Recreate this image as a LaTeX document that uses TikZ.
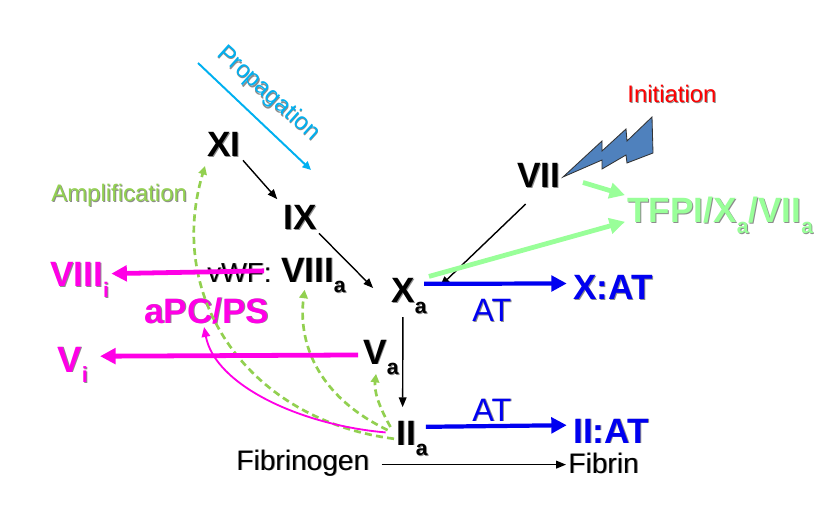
\documentclass[tikz,border=0pt]{standalone}
\usepackage{fontspec}
\setmainfont{Liberation Sans}
\usepackage{xcolor}
\usetikzlibrary{arrows.meta}
\definecolor{ampgreen}{HTML}{92D050}
\definecolor{lightgr}{HTML}{99FF99}
\definecolor{propblue}{HTML}{00B0F0}
\definecolor{boltblue}{HTML}{4F81BD}
\definecolor{pinkm}{HTML}{FF00E6}
\definecolor{atblue}{HTML}{0000F0}
\newcommand{\shd}[1]{\leavevmode\rlap{\raisebox{-0.7pt}{\kern0.7pt\textcolor{black!45}{#1}}}#1}
\newcommand{\lowr}[1]{\raisebox{-.3em}{\scalebox{.6}{#1}}}
\begin{document}
\begin{tikzpicture}[x=0.025cm,y=-0.025cm,
      fac/.style={anchor=base west,inner sep=1.5pt,font=\fontsize{25}{28}\selectfont\bfseries},
      lbl/.style={anchor=base west,inner sep=1.5pt,font=\fontsize{17}{20}\selectfont},
      plain/.style={anchor=base west,inner sep=1.5pt,font=\fontsize{20}{24}\selectfont},
      blackarr/.style={-{Triangle[length=7pt,width=5.5pt]},line width=1pt,black},
      bluearr/.style={-{Triangle[length=11pt,width=11pt]},line width=3pt,atblue},
      pinkarr/.style={-{Triangle[length=11pt,width=11pt]},line width=3.4pt,pinkm},
      greenarr/.style={-{Triangle[length=11pt,width=11pt]},line width=3.4pt,lightgr},
      ampl/.style={-{Triangle[length=6pt,width=6pt]},line width=1.9pt,ampgreen,dash pattern=on 5pt off 3pt}]
    \useasboundingbox (0,0) rectangle (817,505);
    % --- factors ---
    \node[fac] (xi) at (205,157) {\shd{XI}};
    \node[fac] (ix) at (281,230) {\shd{IX}};
    \node[fac,anchor=base east] (viiia) at (348,282) {\shd{{\fontsize{19.5}{24}\selectfont\mdseries vWF:} VIII\lowr{a}}};
    \node[fac] (xa) at (389,303) {\shd{X\lowr{a}}};
    \node[fac] (va) at (361,364) {\shd{V\lowr{a}}};
    \node[fac] (iia) at (394,445) {\shd{II\lowr{a}}};
    \node[fac] (vii) at (515,188) {\shd{VII}};
    \node[fac,pinkm] (viiii) at (48,287) {\shd{VIII\lowr{i}}};
    \node[fac,pinkm,font=\fontsize{26}{28}\selectfont\bfseries] (vi) at (55,372) {\shd{V\lowr{i}}};
    \node[fac,pinkm] (apc) at (142,323) {\shd{aPC/PS}};
    \node[fac,lightgr] (tfpi) at (625,223) {\shd{TFPI/X\lowr{a}/VII\lowr{a}}};
    \node[fac,atblue] (xat) at (571,300) {\shd{X:AT}};
    \node[fac,atblue] (iiat) at (571,443) {\shd{II:AT}};
    % --- labels ---
    \node[plain,atblue,font=\fontsize{23}{28}\selectfont] (at1) at (470,322) {\shd{AT}};
    \node[plain,atblue,font=\fontsize{23}{28}\selectfont] (at2) at (470,421) {\shd{AT}};
    \node[plain] (fbg) at (234,470) {\shd{Fibrinogen}};
    \node[plain] (fbn) at (566,473) {\shd{Fibrin}};
    \node[lbl,red] (init) at (625,103) {\shd{Initiation}};
    \node[lbl,ampgreen] (amp) at (49,202) {\shd{Amplification}};
    \node[lbl,propblue,anchor=center,rotate=-42] (prop) at (268,94) {\shd{Propagation}};
    % lightning
    \draw[fill=boltblue,draw=black!80,line width=0.6pt] (563,177) -- (602,141) -- (602,151) -- (626,129)
      -- (627,141) -- (652,117) -- (653,153) -- (627,163) -- (626,155) -- (602,169) -- (602,160) -- cycle;
    % --- black arrows ---
    \draw[blackarr,shorten >=4pt] (xi.south east) -- (ix.north west);
    \draw[blackarr,shorten >=16pt] (ix.south east) -- (xa.200);
    \draw[blackarr,shorten <=13pt,shorten >=11pt] (vii.south) -- (xa.east);
    \draw[blackarr,shorten >=8pt] ([xshift=-4.3pt]xa.south) -- ([xshift=-6.7pt]iia.north);
    \draw[blackarr,shorten <=7pt] (fbg.east) ++(0,-1pt) coordinate (fba) (fba) -- (fba -| fbn.west);
    % --- curved arrows out of IIa ---
    \draw[ampl] (iia.west) .. controls (250,420) and (165,300) .. ([yshift=-4pt]xi.south west);
    \draw[ampl,shorten <=5pt] ([yshift=4pt]iia.west) .. controls (315,395) and (298,340) .. ([xshift=20pt,yshift=4.5pt]viiia.south);
    \draw[ampl,shorten <=5pt] ([yshift=4pt]iia.west) .. controls (378,405) and (374,390) .. ([xshift=-3.5pt,yshift=3pt]va.south);
    \draw[-{Triangle[length=7pt,width=6pt]},line width=1.3pt,pinkm,shorten <=6pt] ([yshift=4pt]iia.west)
      .. controls (300,425) and (215,385) .. ([xshift=-2pt]apc.south);
    % --- thick arrows ---
    \draw[pinkarr] ([xshift=42pt,yshift=3.5pt]viiia.west) -- ([yshift=5pt]viiii.east);
    \draw[pinkarr,shorten <=2pt,shorten >=7pt] ([yshift=2pt]va.west) -- ([yshift=6.5pt]vi.east);
    \draw[bluearr] ([xshift=-3.5pt,yshift=9.2pt]xa.east) -- ([xshift=-3pt,yshift=3.5pt]xat.west);
    \draw[bluearr] ([xshift=-3pt,yshift=8.5pt]iia.east) -- ([xshift=-3pt,yshift=4.4pt]iiat.west);
    \draw[greenarr,shorten <=15pt] (vii.east) -- (tfpi.north west);
    \draw[greenarr] (xa.north east) -- ([yshift=-4pt]tfpi.west);
    % propagation
    \coordinate (propa) at (198,63);
    \coordinate (propb) at (311,170);
    \draw[-{Triangle[length=6pt,width=5.5pt]},line width=1.4pt,propblue] (propa) -- (propb);
\end{tikzpicture}
\end{document}
